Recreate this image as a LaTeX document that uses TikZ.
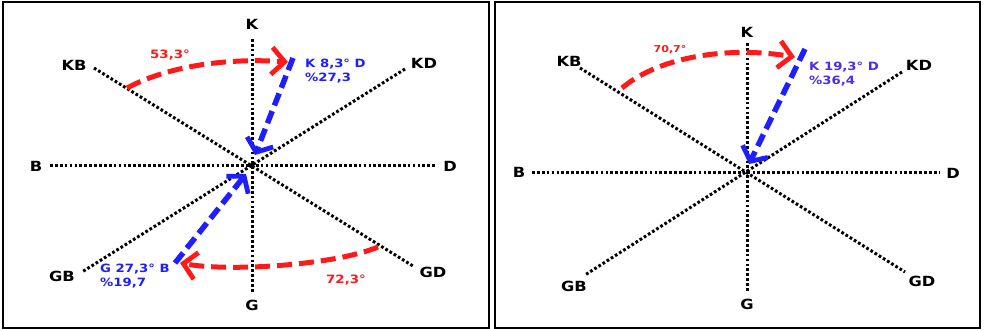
\documentclass[tikz,border=0pt]{standalone}
\usepackage{fontspec}
\setmainfont{DejaVu Sans}[FakeStretch=1.16]
\usetikzlibrary{arrows.meta}
\definecolor{rd}{RGB}{255,25,25}
\definecolor{bl}{RGB}{30,30,255}
\definecolor{blv}{RGB}{75,45,240}
\begin{document}
\begin{tikzpicture}[x=1pt,y=-1pt,
  frame/.style={draw=black, line width=2.2pt},
  dotline/.style={black, line width=3pt, dash pattern=on 2.7pt off 2.2pt},
  axlab/.style={font=\bfseries\fontsize{14}{15}\selectfont, inner sep=0pt},
  redlab/.style={rd, font=\bfseries\fontsize{11.5}{12}\selectfont, inner sep=0pt},
  bluelab/.style={bl, font=\bfseries\fontsize{11.4}{14}\selectfont, inner sep=0pt, align=left, anchor=north west},
  redarc/.style={rd, line width=5pt, dash pattern=on 15pt off 7pt,
    -{Straight Barb[length=13pt,width=27pt,line width=4.8pt]}},
  bluearr/.style={bl, line width=5.5pt, dash pattern=on 13pt off 6pt,
    -{Straight Barb[length=11pt,width=28pt,line width=4.8pt]}}
]
\useasboundingbox (0,0) rectangle (984,331);
\fill[white] (0,0) rectangle (984,331);
% frames
\draw[frame] (3,2) rectangle (489,328);
\draw[frame] (495,2) rectangle (980,328);

% ---------- left panel ----------
\coordinate (c1) at (252,166);
\coordinate (k1) at (252,39);
\coordinate (g1) at (252,293);
\coordinate (b1) at (50,166);
\coordinate (d1) at (437,166);
\coordinate (kb1) at (94,68);
\coordinate (gd1) at (413,266);
\coordinate (kd1) at (405,69);
\coordinate (gb1) at (82,272);
\draw[dotline] (k1) -- (g1);
\draw[dotline] (b1) -- (d1);
\draw[dotline] (kb1) -- (gd1);
\draw[dotline] (kd1) -- (gb1);
\node[axlab] (lK) at (252,24) {K};
\node[axlab] (lG) at (252,305) {G};
\node[axlab] (lB) at (36,166) {B};
\node[axlab] (lD) at (450,166) {D};
\node[axlab] (lKB) at (74,65) {KB};
\node[axlab] (lKD) at (424,63) {KD};
\node[axlab] (lGB) at (62,276) {GB};
\node[axlab] (lGD) at (433,272) {GD};

\coordinate (ra1s) at (127,88);
\coordinate (ra1e) at (288,62);
\draw[redarc] (ra1s) .. controls (170,65) and (230,58) .. (ra1e);
\node[redlab] (t53) at (170,55) {53,3°};

\coordinate (ba1s) at (293,58);
\coordinate (ba1e) at (255,155);
\draw[bluearr] (ba1s) -- (ba1e);
\node[bluelab] (tk8) at (305,59) {K 8,3° D\\\%27,3};

\coordinate (ba2s) at (175,263);
\coordinate (ba2e) at (246,174);
\draw[bluearr] (ba2s) -- (ba2e);
\node[bluelab] (tg27) at (100,264) {G 27,3° B\\\%19,7};

\coordinate (ra2s) at (378,247);
\coordinate (ra2e) at (180,263);
\draw[redarc] (ra2s) .. controls (335,265) and (230,272) .. (ra2e);
\node[redlab] (t72) at (346,280) {72,3°};

% ---------- right panel ----------
\coordinate (c2) at (747,173);
\coordinate (k2) at (747,43);
\coordinate (g2) at (747,292);
\coordinate (b2) at (532,173);
\coordinate (d2) at (939,173);
\coordinate (kb2) at (580,68);
\coordinate (gd2) at (905,272);
\coordinate (kd2) at (902,72);
\coordinate (gb2) at (585,275);
\draw[dotline] (k2) -- (g2);
\draw[dotline] (b2) -- (d2);
\draw[dotline] (kb2) -- (gd2);
\draw[dotline] (kd2) -- (gb2);
\node[axlab] (rK) at (747,32) {K};
\node[axlab] (rG) at (747,304) {G};
\node[axlab] (rB) at (519,172) {B};
\node[axlab] (rD) at (953,173) {D};
\node[axlab] (rKB) at (569,61) {KB};
\node[axlab] (rKD) at (919,65) {KD};
\node[axlab] (rGB) at (574,286) {GB};
\node[axlab] (rGD) at (922,281) {GD};

\coordinate (ra3s) at (622,88);
\coordinate (ra3e) at (795,57);
\draw[redarc] (ra3s) .. controls (655,60) and (720,45) .. (ra3e);
\node[redlab, font=\bfseries\fontsize{9.5}{10}\selectfont] (t70) at (670,50) {70,7°};

\coordinate (ba3s) at (805,49);
\coordinate (ba3e) at (749,164);
\draw[bluearr] (ba3s) -- (ba3e);
\node[bluelab, text=blv] (tk19) at (809,62) {K 19,3° D\\\%36,4};
\end{tikzpicture}
\end{document}
